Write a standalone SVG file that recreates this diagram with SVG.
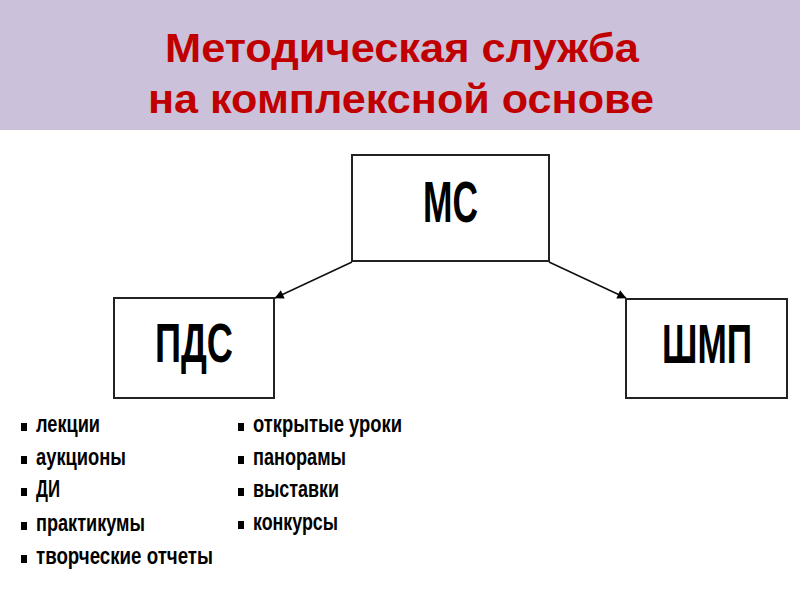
<svg xmlns="http://www.w3.org/2000/svg" width="800" height="600" viewBox="0 0 800 600">
<style>
.title{font-family:"Liberation Sans",Arial,sans-serif;font-weight:bold;font-size:40px;fill:#C00000;text-anchor:start}
.box{fill:#fff;stroke:#222;stroke-width:2}
.lbl{font-family:"Liberation Sans",Arial,sans-serif;font-weight:bold;fill:#000;text-anchor:middle}
.item{font-family:"Liberation Sans Narrow","Liberation Sans",Arial,sans-serif;font-weight:bold;font-size:23px;fill:#000}
.bul{fill:#000}
.conn{stroke:#111;stroke-width:1.6;fill:none;marker-end:url(#ah)}
</style>
<defs>
<marker id="ah" viewBox="0 0 10 10" refX="9.5" refY="5" markerWidth="10" markerHeight="9" markerUnits="userSpaceOnUse" orient="auto">
<path d="M0,0 L10,5 L0,10 z" fill="#000"/>
</marker>
</defs>
<rect x="0" y="0" width="800" height="130" fill="#CCC1DA"/>
<g id="title">
<text class="title" x="165" y="62" textLength="474" lengthAdjust="spacingAndGlyphs">Методическая служба</text>
<text class="title" x="148" y="113" textLength="506" lengthAdjust="spacingAndGlyphs">на комплексной основе</text>
</g>
<g id="connectors">
<line class="conn" x1="352" y1="262" x2="275" y2="298"/>
<line class="conn" x1="549" y1="262" x2="626" y2="298"/>
</g>
<g id="node-ms">
<rect class="box" x="352" y="155" width="197" height="106"/>
<text class="lbl" transform="translate(450.5,222) scale(0.62,1)" font-size="58" textLength="88.7" lengthAdjust="spacingAndGlyphs">МС</text>
</g>
<g id="node-pds">
<rect class="box" x="114" y="298" width="160" height="100"/>
<text class="lbl" transform="translate(194,362) scale(0.64,1)" font-size="56" textLength="121.9" lengthAdjust="spacingAndGlyphs">ПДС</text>
</g>
<g id="node-shmp">
<rect class="box" x="626" y="299" width="161" height="99"/>
<text class="lbl" transform="translate(707,363) scale(0.65,1)" font-size="56" textLength="138.5" lengthAdjust="spacingAndGlyphs">ШМП</text>
</g>
<g id="list-left">
<rect class="bul" x="21" y="423" width="6" height="8"/>
<text class="item" x="36" y="432" textLength="64" lengthAdjust="spacingAndGlyphs">лекции</text>
<rect class="bul" x="21" y="456" width="6" height="8"/>
<text class="item" x="36" y="465" textLength="90" lengthAdjust="spacingAndGlyphs">аукционы</text>
<rect class="bul" x="21" y="488" width="6" height="8"/>
<text class="item" x="36" y="497" textLength="24" lengthAdjust="spacingAndGlyphs">ДИ</text>
<rect class="bul" x="21" y="522" width="6" height="8"/>
<text class="item" x="36" y="531" textLength="109" lengthAdjust="spacingAndGlyphs">практикумы</text>
<rect class="bul" x="21" y="555" width="6" height="8"/>
<text class="item" x="36" y="564" textLength="177" lengthAdjust="spacingAndGlyphs">творческие отчеты</text>
</g>
<g id="list-right">
<rect class="bul" x="238" y="423" width="6" height="8"/>
<text class="item" x="253" y="432" textLength="149" lengthAdjust="spacingAndGlyphs">открытые уроки</text>
<rect class="bul" x="238" y="456" width="6" height="8"/>
<text class="item" x="253" y="465" textLength="93" lengthAdjust="spacingAndGlyphs">панорамы</text>
<rect class="bul" x="238" y="488" width="6" height="8"/>
<text class="item" x="253" y="497" textLength="86" lengthAdjust="spacingAndGlyphs">выставки</text>
<rect class="bul" x="238" y="521" width="6" height="8"/>
<text class="item" x="253" y="530" textLength="85" lengthAdjust="spacingAndGlyphs">конкурсы</text>
</g>
</svg>
